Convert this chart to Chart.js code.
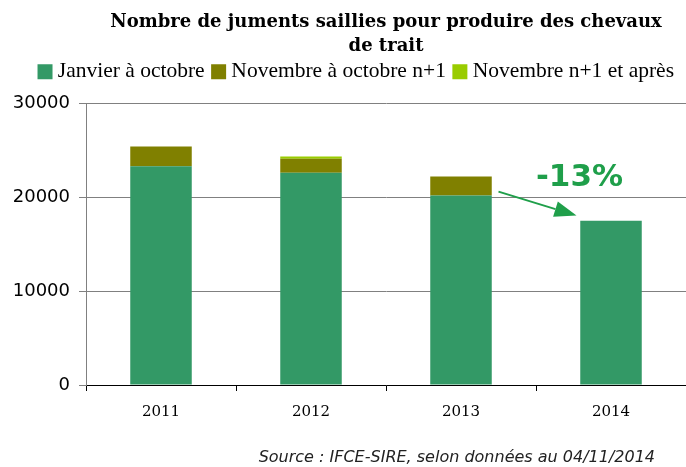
<!DOCTYPE html>
<html>
<head>
<meta charset="utf-8">
<script src="https://cdn.jsdelivr.net/npm/chart.js@4.4.1/dist/chart.umd.min.js"></script>
<style>
html, body { margin: 0; padding: 0; background: #fff; }
</style>
</head>
<body>
<canvas id="chart" width="686" height="467"></canvas>
<script>
const years = ['2011', '2012', '2013', '2014'];
const janOct = [23300, 22600, 20200, 17500];
const novOct = [2100, 1500, 2000, 0];
const novAfter = [0, 250, 0, 0];
const seriesNames = ['Janvier à octobre', 'Novembre à octobre n+1', 'Novembre n+1 et après'];
const titleLines = ['Nombre de juments saillies pour produire des chevaux', 'de trait'];
const sourceText = 'Source : IFCE-SIRE, selon données au 04/11/2014';
const changeLabel = '-13%';
// arrow and label placed in (category index, value) space
const arrowFrom = [2.25, 20600];
const arrowTo = [2.77, 18050];
const labelAt = [2.79, 21250];

const GREEN = '#339966';
const OLIVE = '#808000';
const LIME = '#99cc00';
const ACCENT = '#1f9f4a';

const annotations = {
    id: 'annotations',
    afterDatasetsDraw(chart) {
        const ctx = chart.ctx;
        const x = chart.scales.x;
        const y = chart.scales.y;
        const x1 = x.getPixelForValue(arrowFrom[0]), y1 = y.getPixelForValue(arrowFrom[1]);
        const x2 = x.getPixelForValue(arrowTo[0]), y2 = y.getPixelForValue(arrowTo[1]);
        const ang = Math.atan2(y2 - y1, x2 - x1);
        const headLen = 22, headHalf = 8;
        const bx = x2 - headLen * Math.cos(ang), by = y2 - headLen * Math.sin(ang);

        ctx.save();
        ctx.strokeStyle = ACCENT;
        ctx.fillStyle = ACCENT;
        ctx.lineWidth = 2;
        ctx.beginPath();
        ctx.moveTo(x1, y1);
        ctx.lineTo(bx, by);
        ctx.stroke();
        ctx.beginPath();
        ctx.moveTo(x2, y2);
        ctx.lineTo(bx + headHalf * Math.sin(ang), by - headHalf * Math.cos(ang));
        ctx.lineTo(bx - headHalf * Math.sin(ang), by + headHalf * Math.cos(ang));
        ctx.closePath();
        ctx.fill();

        ctx.font = 'bold 31px "DejaVu Sans"';
        ctx.textAlign = 'center';
        ctx.textBaseline = 'alphabetic';
        ctx.fillText(changeLabel, x.getPixelForValue(labelAt[0]), y.getPixelForValue(labelAt[1]));
        ctx.restore();
    },
    afterDraw(chart) {
        const ctx = chart.ctx;
        ctx.save();
        ctx.font = 'italic 16px "DejaVu Sans"';
        ctx.fillStyle = '#222';
        ctx.textAlign = 'right';
        ctx.textBaseline = 'middle';
        ctx.fillText(sourceText, chart.width - 31, chart.height - 9);
        ctx.restore();
    }
};

new Chart(document.getElementById('chart'), {
    type: 'bar',
    data: {
        labels: years,
        datasets: [
            { label: seriesNames[0], data: janOct, backgroundColor: GREEN },
            { label: seriesNames[1], data: novOct, backgroundColor: OLIVE },
            { label: seriesNames[2], data: novAfter, backgroundColor: LIME }
        ]
    },
    plugins: [annotations],
    options: {
        responsive: false,
        animation: false,
        devicePixelRatio: 1,
        layout: {
            padding: { left: 0, right: 0, top: 0, bottom: 34 }
        },
        datasets: {
            bar: {
                barPercentage: 0.41,
                categoryPercentage: 1
            }
        },
        scales: {
            x: {
                stacked: true,
                border: { color: '#000', width: 1 },
                grid: {
                    drawOnChartArea: false,
                    color: '#000',
                    tickLength: 6
                },
                ticks: {
                    color: '#000',
                    padding: 12,
                    font: { family: '"DejaVu Serif"', size: 15 }
                }
            },
            y: {
                stacked: true,
                min: 0,
                max: 30000,
                afterFit: function(scale) {
                    scale.width = 86;
                },
                border: { color: '#808080', width: 1 },
                grid: {
                    color: '#808080',
                    tickLength: 7
                },
                ticks: {
                    stepSize: 10000,
                    color: '#000',
                    padding: 9,
                    font: { family: '"DejaVu Sans"', size: 18 },
                    callback: function(value) {
                        return String(value);
                    }
                }
            }
        },
        plugins: {
            title: {
                display: true,
                fullSize: false,
                text: titleLines,
                color: '#000',
                font: { family: '"DejaVu Serif"', weight: 'bold', size: 18, lineHeight: 1.33 },
                padding: { top: 10, bottom: -9 }
            },
            legend: {
                display: true,
                align: 'end',
                labels: {
                    color: '#000',
                    usePointStyle: true,
                    pointStyle: 'rect',
                    boxWidth: 4,
                    boxHeight: 15,
                    padding: 12,
                    font: { family: '"Liberation Serif"', size: 21.5 }
                }
            },
            // empty spacer between legend and plot
            subtitle: {
                display: true,
                text: '',
                weight: 500,
                font: { size: 1, lineHeight: 1 },
                padding: { top: 0, bottom: 10 }
            },
            tooltip: { enabled: false }
        }
    }
});
</script>
</body>
</html>
